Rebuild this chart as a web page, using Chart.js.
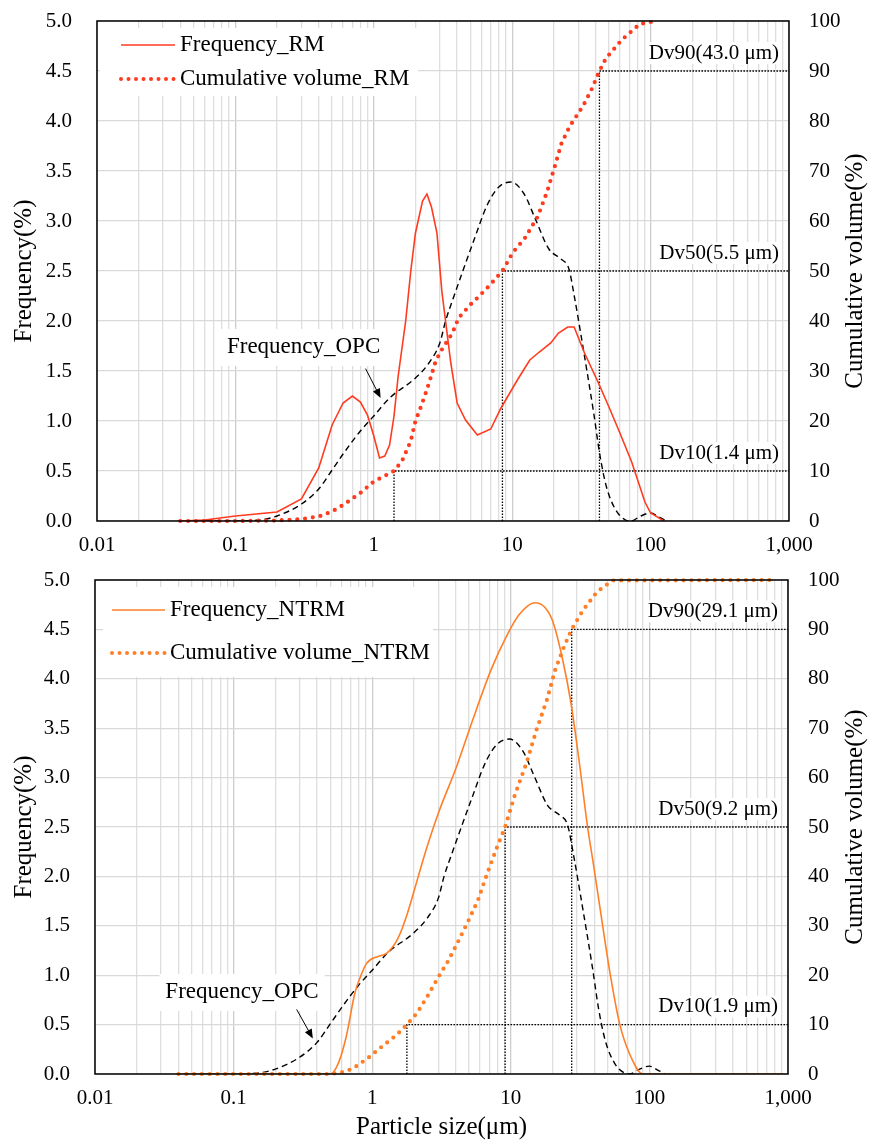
<!DOCTYPE html>
<html>
<head>
<meta charset="utf-8">
<title>Particle size distribution</title>
<script src="https://cdn.jsdelivr.net/npm/chart.js@4.4.1/dist/chart.umd.min.js"></script>
<style>
  html, body { margin: 0; padding: 0; background: #fff; }
  #topBox { position: absolute; left: 0; top: 0; width: 869px; height: 560px; }
  #bottomBox { position: absolute; left: 0; top: 560px; width: 869px; height: 582px; }
</style>
</head>
<body>
<div id="topBox"><canvas id="rmChart"></canvas></div>
<div id="bottomBox"><canvas id="ntrmChart"></canvas></div>
<script>
const FONT = "'Liberation Serif', 'Times New Roman', serif";
const RED = '#ff3b1f';
const ORANGE = '#ff7f27';

// x axis (log) labels
const xDecades = [0.01, 0.1, 1, 10, 100, 1000];
const xTickLabels = ['0.01', '0.1', '1', '10', '100', '1,000'];

// OPC reference curve, same in both panels
const opcSize = [0.06, 0.1, 0.15, 0.2, 0.3, 0.4, 0.5, 0.6, 0.8, 1.0, 1.3, 2.0, 2.5, 3.0, 3.3, 3.8, 5.2, 6.6, 8.0, 9.8, 12.2, 14.8, 18.4, 22.5, 25.7, 28, 33, 38.8, 43, 48, 56, 66, 72, 85, 100, 115, 130];
const opcFreq = [0, 0, 0.01, 0.05, 0.17, 0.32, 0.51, 0.67, 0.9, 1.05, 1.23, 1.43, 1.58, 1.78, 2.0, 2.25, 2.78, 3.16, 3.34, 3.39, 3.27, 3.01, 2.72, 2.62, 2.52, 2.26, 1.68, 1.08, 0.66, 0.34, 0.11, 0.01, 0, 0.05, 0.08, 0.04, 0];

// RM
const rmFreqSize = [0.04, 0.06, 0.1, 0.2, 0.3, 0.4, 0.5, 0.6, 0.7, 0.8, 0.9, 1.0, 1.1, 1.2, 1.3, 1.4, 1.5, 1.7, 1.85, 2.0, 2.25, 2.42, 2.61, 2.86, 3.1, 3.6, 4.0, 4.6, 5.6, 7.0, 8.3, 10.9, 13.4, 15.7, 19, 21.6, 25.2, 28, 33.3, 42, 50, 60, 73, 91, 100, 125];
const rmFreq = [0, 0.01, 0.05, 0.09, 0.22, 0.53, 0.96, 1.18, 1.25, 1.19, 1.06, 0.85, 0.63, 0.65, 0.76, 1.05, 1.45, 2.0, 2.5, 2.88, 3.2, 3.27, 3.14, 2.88, 2.3, 1.58, 1.18, 1.01, 0.86, 0.92, 1.13, 1.41, 1.61, 1.69, 1.78, 1.88, 1.94, 1.94, 1.68, 1.38, 1.14, 0.88, 0.59, 0.19, 0.08, 0];
const rmCumSize = [0.04, 0.1, 0.2, 0.3, 0.4, 0.5, 0.6, 0.8, 1.0, 1.4, 1.6, 1.85, 2.0, 2.2, 2.4, 2.6, 2.8, 3.06, 3.7, 4.1, 5.0, 5.6, 6.8, 8.5, 10.1, 12.3, 15.3, 17.9, 20.3, 22.7, 26, 32.5, 37.3, 42.7, 47.5, 61.7, 83.7, 110];
const rmCum = [0, 0, 0.1, 0.4, 0.9, 1.9, 3.2, 5.6, 7.9, 10, 12, 16, 20, 23, 26, 29, 32, 34, 37.6, 40.6, 43.3, 44.6, 47, 50, 53.7, 56.5, 60.9, 65.9, 70.9, 75.5, 78.9, 83, 86.2, 90, 92.5, 96.2, 99.4, 100];
const rmDv = [1.4, 8.5, 42.7];
const rmDvLabels = ['Dv10(1.4 μm)', 'Dv50(5.5 μm)', 'Dv90(43.0 μm)'];

// NTRM
const ntrmFreqSize = [0.04, 0.5, 0.57, 0.65, 0.75, 0.82, 0.91, 1.1, 1.27, 1.53, 1.78, 2.14, 2.45, 3.0, 4.06, 5.3, 7.2, 9.3, 11.5, 14.9, 17.7, 20.1, 23.7, 27.2, 31.5, 35.8, 39, 45, 52, 60.7, 71.6, 90, 920];
const ntrmFreq = [0, 0, 0.11, 0.38, 0.82, 0.98, 1.12, 1.19, 1.22, 1.37, 1.61, 1.99, 2.27, 2.64, 3.11, 3.58, 4.09, 4.43, 4.65, 4.77, 4.72, 4.58, 4.19, 3.75, 3.11, 2.5, 2.17, 1.59, 1.02, 0.52, 0.21, 0, 0];
const ntrmCumSize = [0.04, 0.5, 0.65, 0.77, 0.93, 1.1, 1.27, 1.5, 1.78, 2.1, 2.5, 3.0, 3.5, 4.05, 4.9, 5.8, 6.7, 7.8, 9.1, 10.7, 13, 15.3, 18.2, 20.9, 24.2, 27.5, 33.2, 41.9, 54, 800];
const ntrmCum = [0, 0, 0.5, 1.6, 3.2, 4.9, 6.3, 7.9, 10, 12.3, 15.7, 19.6, 22.7, 26.1, 30.8, 35.2, 40.3, 45.3, 50, 56.5, 63, 69.6, 75.7, 81.8, 86.5, 90, 93.9, 97.6, 99.9, 100];
const ntrmDv = [1.78, 9.1, 27.5];
const ntrmDvLabels = ['Dv10(1.9 μm)', 'Dv50(9.2 μm)', 'Dv90(29.1 μm)'];

const dvLevels = [10, 50, 90];

// minor log gridlines: 1..9 x 10^n
const logTicks = [];
for (let e = -2; e <= 2; e++) {
    for (let m = 1; m <= 9; m++) logTicks.push(+(m * Math.pow(10, e)).toPrecision(3));
}
logTicks.push(1000);

function pts(xs, ys) {
    return xs.map((x, i) => ({x: x, y: ys[i]}));
}

function dvPath(size, level) {
    return [{x: size, y: 0}, {x: size, y: level}, {x: 1000, y: level}];
}

// keep tick padding from pushing the plot area down
function fixWidth(w) {
    return s => {
        s.width = w;
        s.paddingTop = 10;
        s.paddingBottom = 10;
    };
}

const decor = {
    id: 'decor',
    beforeDatasetsDraw(chart, args, opts) {
        const {ctx, chartArea: a, scales} = chart;
        const lg = opts.legend;
        ctx.save();
        ctx.fillStyle = '#fff';
        ctx.fillRect(a.left + lg.box[0], a.top + lg.box[1], lg.box[2], lg.box[3]);
        ctx.font = '23px ' + FONT;
        ctx.textBaseline = 'middle';
        lg.items.forEach((it, i) => {
            const y = a.top + lg.rows[i];
            ctx.beginPath();
            ctx.strokeStyle = it.color;
            ctx.lineWidth = it.dotted ? 4 : 1.6;
            ctx.lineCap = it.dotted ? 'round' : 'butt';
            ctx.setLineDash(it.dotted ? [0, 7.5] : []);
            ctx.moveTo(a.left + lg.line[0], y);
            ctx.lineTo(a.left + lg.line[1], y);
            ctx.stroke();
            ctx.setLineDash([]);
            ctx.fillStyle = '#000';
            ctx.fillText(it.text, a.left + lg.textX, y);
        });

        // Frequency_OPC callout
        const c = opts.callout;
        const tx = scales.x.getPixelForValue(c.at[0]);
        const ty = scales.y.getPixelForValue(c.at[1]);
        const w = ctx.measureText(c.text).width;
        ctx.fillStyle = '#fff';
        ctx.fillRect(tx - w / 2 - 6, ty - 18, w + 12, 37);
        ctx.fillStyle = '#000';
        ctx.textAlign = 'center';
        ctx.fillText(c.text, tx, ty);
        const x0 = scales.x.getPixelForValue(c.from[0]), y0 = scales.y.getPixelForValue(c.from[1]);
        const x1 = scales.x.getPixelForValue(c.to[0]), y1 = scales.y.getPixelForValue(c.to[1]);
        const ang = Math.atan2(y1 - y0, x1 - x0);
        ctx.strokeStyle = '#000';
        ctx.lineWidth = 1;
        ctx.beginPath();
        ctx.moveTo(x0, y0);
        ctx.lineTo(x1 - 6 * Math.cos(ang), y1 - 6 * Math.sin(ang));
        ctx.stroke();
        ctx.beginPath();
        ctx.moveTo(x1, y1);
        ctx.lineTo(x1 - 10 * Math.cos(ang - 0.4), y1 - 10 * Math.sin(ang - 0.4));
        ctx.lineTo(x1 - 10 * Math.cos(ang + 0.4), y1 - 10 * Math.sin(ang + 0.4));
        ctx.closePath();
        ctx.fillStyle = '#000';
        ctx.fill();
        ctx.restore();
    },
    afterDatasetsDraw(chart, args, opts) {
        const {ctx, chartArea: a, scales} = chart;
        ctx.save();
        // Dv labels
        ctx.font = '21px ' + FONT;
        ctx.textAlign = 'right';
        ctx.textBaseline = 'middle';
        opts.dvLabels.forEach((t, i) => {
            const y = scales.y2.getPixelForValue(dvLevels[i]) - 18;
            const w = ctx.measureText(t).width;
            ctx.fillStyle = '#fff';
            ctx.fillRect(a.right - 10 - w - 2, y - 11, w + 4, 22);
            ctx.fillStyle = '#000';
            ctx.fillText(t, a.right - 10, y);
        });
        // plot frame
        ctx.strokeStyle = '#000';
        ctx.lineWidth = 1.5;
        ctx.strokeRect(a.left, a.top, a.width, a.height);
        ctx.restore();
    },
    afterDraw(chart) {
        const {ctx, chartArea: a} = chart;
        ctx.save();
        ctx.translate(chart.width - 14, (a.top + a.bottom) / 2);
        ctx.rotate(-Math.PI / 2);
        ctx.font = '25px ' + FONT;
        ctx.fillStyle = '#000';
        ctx.textAlign = 'center';
        ctx.textBaseline = 'middle';
        ctx.fillText('Cumulative volume(%)', 0, 0);
        ctx.restore();
    }
};

function makeChart(id, p) {
    const tickFont = {family: FONT, size: 21};
    const titleFont = {family: FONT, size: 25};
    return new Chart(document.getElementById(id), {
        type: 'line',
        data: {
            datasets: [
                {
                    label: p.freqLabel, data: pts(p.freqSize, p.freq), yAxisID: 'y',
                    borderColor: p.color, borderWidth: 1.6, pointRadius: 0,
                    cubicInterpolationMode: p.smooth ? 'monotone' : 'default', tension: 0
                },
                {
                    label: p.cumLabel, data: pts(p.cumSize, p.cum), yAxisID: 'y2',
                    borderColor: p.color, borderWidth: 4.2, borderDash: [0, 7.8], borderCapStyle: 'round',
                    pointRadius: 0, tension: 0, clip: 6
                },
                {
                    label: 'Frequency_OPC', data: pts(opcSize, opcFreq), yAxisID: 'y',
                    borderColor: '#000', borderWidth: 1.4, borderDash: [6, 4], pointRadius: 0,
                    cubicInterpolationMode: 'monotone'
                },
                ...p.dv.map((d, i) => ({
                    label: 'dv' + i, data: dvPath(d, dvLevels[i]), yAxisID: 'y2',
                    borderColor: '#000', borderWidth: 1.3, borderDash: [1.5, 1.5], pointRadius: 0, tension: 0
                }))
            ]
        },
        options: {
            responsive: true,
            maintainAspectRatio: false,
            animation: false,
            events: [],
            layout: {padding: {top: p.top, left: 0, right: 0, bottom: 0}},
            plugins: {
                legend: {display: false},
                tooltip: {enabled: false},
                decor: {legend: p.legend, callout: p.callout, dvLabels: p.dvLabels}
            },
            scales: {
                x: {
                    type: 'logarithmic', min: 0.01, max: 1000,
                    afterBuildTicks: s => { s.ticks = logTicks.map(v => ({value: v})); },
                    afterFit: s => { s.height = p.xHeight; },
                    border: {display: false},
                    grid: {
                        drawTicks: false, lineWidth: 1.3,
                        color: c => xDecades.includes(c.tick && c.tick.value) ? '#cdcdcd' : '#dedede'
                    },
                    ticks: {
                        autoSkip: false, maxRotation: 0, padding: 12, color: '#000', font: tickFont,
                        callback: v => {
                            const i = xDecades.indexOf(v);
                            return i >= 0 ? xTickLabels[i] : '';
                        }
                    },
                    title: {
                        display: p.xTitle, text: 'Particle size(μm)', color: '#000',
                        font: titleFont, padding: {top: 0, bottom: 0}
                    }
                },
                y: {
                    position: 'left', min: 0, max: 5,
                    afterFit: fixWidth(p.leftW),
                    border: {display: false},
                    grid: {drawTicks: false, color: '#d9d9d9', lineWidth: 1.3},
                    ticks: {stepSize: 0.5, padding: 25, color: '#000', font: tickFont, callback: v => v.toFixed(1)},
                    title: {display: true, text: 'Frequency(%)', color: '#000', font: titleFont, padding: {top: 9, bottom: 0}}
                },
                y2: {
                    position: 'right', min: 0, max: 100,
                    afterFit: fixWidth(p.rightW),
                    border: {display: false},
                    grid: {drawOnChartArea: false, drawTicks: false},
                    ticks: {stepSize: 10, padding: 20, color: '#000', font: tickFont}
                }
            }
        },
        plugins: [decor]
    });
}

makeChart('rmChart', {
    freqLabel: 'Frequency_RM', cumLabel: 'Cumulative volume_RM', color: RED, smooth: false,
    freqSize: rmFreqSize, freq: rmFreq, cumSize: rmCumSize, cum: rmCum,
    dv: rmDv, dvLabels: rmDvLabels,
    top: 21, xHeight: 39, leftW: 97, rightW: 80, xTitle: false,
    legend: {
        box: [3, 7, 318, 68], rows: [24, 58], line: [24, 78], textX: 83,
        items: [
            {text: 'Frequency_RM', color: RED, dotted: false},
            {text: 'Cumulative volume_RM', color: RED, dotted: true}
        ]
    },
    callout: {text: 'Frequency_OPC', at: [0.311, 1.74], from: [0.875, 1.52], to: [1.12, 1.23]}
});

makeChart('ntrmChart', {
    freqLabel: 'Frequency_NTRM', cumLabel: 'Cumulative volume_NTRM', color: ORANGE, smooth: true,
    freqSize: ntrmFreqSize, freq: ntrmFreq, cumSize: ntrmCumSize, cum: ntrmCum,
    dv: ntrmDv, dvLabels: ntrmDvLabels,
    top: 20, xHeight: 68, leftW: 95, rightW: 81, xTitle: true,
    legend: {
        box: [8, 7, 330, 90], rows: [30, 73], line: [17, 70], textX: 75,
        items: [
            {text: 'Frequency_NTRM', color: ORANGE, dotted: false},
            {text: 'Cumulative volume_NTRM', color: ORANGE, dotted: true}
        ]
    },
    callout: {text: 'Frequency_OPC', at: [0.115, 0.83], from: [0.286, 0.65], to: [0.373, 0.36]}
});
</script>
</body>
</html>
